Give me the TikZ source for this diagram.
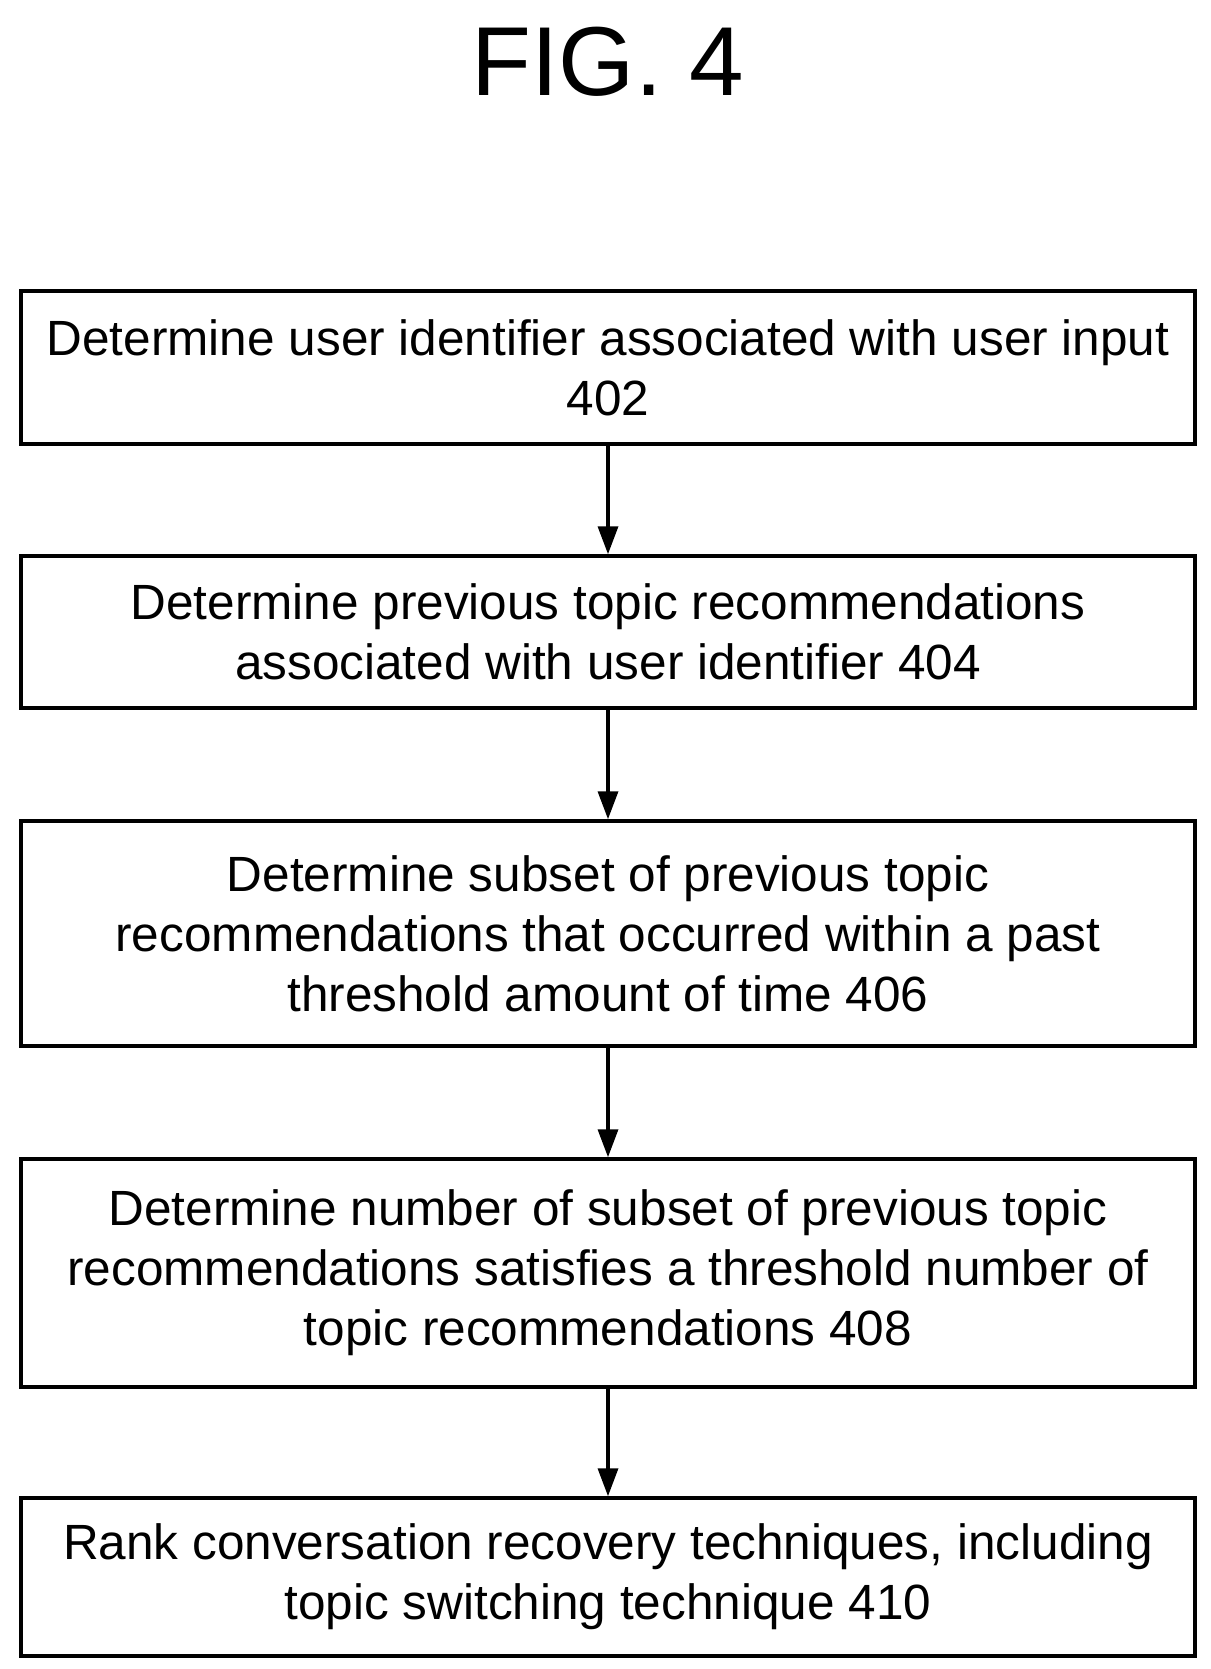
\documentclass[tikz,border=0pt]{standalone}
\usepackage{fontspec}
\setmainfont{Liberation Sans}
\usetikzlibrary{arrows.meta}
\begin{document}
\begin{tikzpicture}[x=1pt,y=-1pt,
  stepbox/.style={draw,line width=3.5pt,minimum width=1174pt,align=center,inner sep=0pt,font=\fontsize{49.5}{60}\selectfont},
  arr/.style={line width=3.5pt,-{Triangle[length=28pt,width=20pt]}}]
\useasboundingbox (0,0) rectangle (1210,1669);
\node[font=\fontsize{98}{98}\selectfont] (t) at (608,62) {FIG. 4};
\node[stepbox,minimum height=153pt] (a) at (608,367.5) {Determine user identifier associated with user input\\402};
\node[stepbox,minimum height=152pt] (b) at (608,632) {Determine previous topic recommendations\\associated with user identifier 404};
\node[stepbox,minimum height=225pt] (c) at (608,933.5) {Determine subset of previous topic\\recommendations that occurred within a past\\threshold amount of time 406};
\node[stepbox,minimum height=228pt] (d) at (608,1273) {Determine number of subset of previous topic\\recommendations satisfies a threshold number of\\topic recommendations 408};
\node[stepbox,minimum height=158pt] (e) at (608,1577) {Rank conversation recovery techniques, including\\topic switching technique 410};
\draw[arr] (a) -- (b);
\draw[arr] (b) -- (c);
\draw[arr] (c) -- (d);
\draw[arr] (d) -- (e);
\end{tikzpicture}
\end{document}
